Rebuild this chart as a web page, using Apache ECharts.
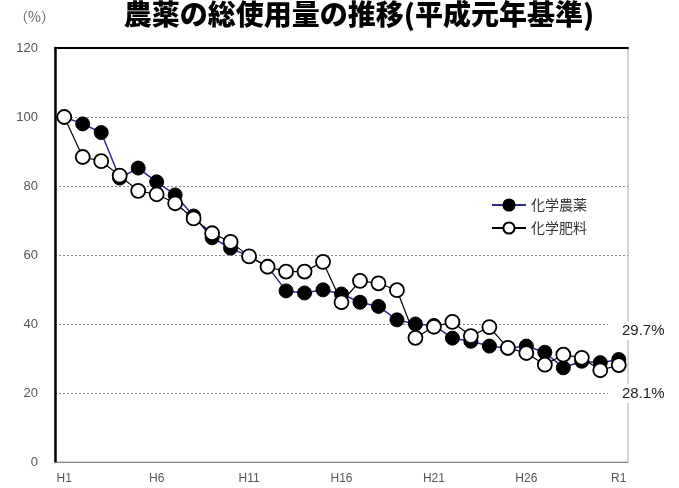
<!DOCTYPE html>
<html>
<head>
<meta charset="utf-8">
<script src="https://cdn.jsdelivr.net/npm/echarts@6/dist/echarts.min.js"></script>
<style>
  html, body { margin: 0; padding: 0; background: #fff; }
  #main { width: 679px; height: 488px; }
</style>
</head>
<body>
<div id="main"></div>
<script>
// 年度 (H1 ~ H30, R1)
var years = [];
for (var i = 1; i <= 30; i++) years.push('H' + i);
years.push('R1');

// 化学農薬 (%)
var pesticide = [100, 98, 95.5, 82.3, 85.2, 81.2, 77.4, 71.3, 65, 62,
  59.6, 56.7, 49.6, 49, 49.9, 48.7, 46.3, 45.1, 41.2, 40,
  39.6, 35.9, 35, 33.6, 33, 33.6, 31.8, 27.3, 29.2, 28.8, 29.7];
// 化学肥料 (%)
var fertilizer = [100, 88.4, 87.2, 83, 78.6, 77.6, 75, 70.6, 66.3, 63.8,
  59.6, 56.6, 55.2, 55.2, 58, 46.3, 52.5, 51.8, 49.8, 36,
  39.2, 40.6, 36.5, 39.1, 33.1, 31.6, 28.2, 31.1, 30.2, 26.6, 28.1];

var yTicks = [0, 20, 40, 60, 80, 100, 120];
var endNotes = ['29.7%', '28.1%'];

var myChart = echarts.init(document.getElementById('main'));

var option = {
  animation: false,
  backgroundColor: '#fff',
  title: {
    text: '農薬の総使用量の推移(平成元年基準)',
    left: 354,
    top: -5,
    textAlign: 'center',
    textStyle: {
      fontFamily: 'Noto Sans CJK JP',
      fontSize: 28,
      fontWeight: 900,
      color: '#000'
    }
  },
  grid: {
    left: 55,
    right: 51,
    top: 48,
    bottom: 26,
    show: true,
    borderColor: '#aaa',
    borderWidth: 1
  },
  legend: {
    orient: 'vertical',
    left: 486,
    top: 193,
    itemWidth: 34,
    itemHeight: 14,
    itemGap: 9,
    textStyle: { fontFamily: 'Noto Sans CJK JP', fontSize: 14, color: '#333' },
    data: ['化学農薬', '化学肥料']
  },
  xAxis: [
    {
      type: 'category',
      data: years,
      boundaryGap: true,
      axisLine: { lineStyle: { color: '#888', width: 1 } },
      axisTick: { inside: true, length: 5, interval: 0, lineStyle: { color: '#888' } },
      axisLabel: {
        interval: 4,
        color: '#555',
        fontFamily: 'Liberation Sans',
        fontSize: 12,
        margin: 11
      }
    },
    {
      type: 'category',
      position: 'top',
      data: years,
      axisLine: { lineStyle: { color: '#000', width: 2 } },
      axisTick: { show: false },
      axisLabel: { show: false }
    }
  ],
  yAxis: {
    type: 'value',
    min: 0,
    max: 120,
    interval: 20,
    axisLine: { show: true, lineStyle: { color: '#000', width: 2.5 } },
    axisTick: { show: false },
    axisLabel: {
      color: '#555',
      fontFamily: 'Liberation Sans',
      fontSize: 13,
      margin: 17,
      formatter: function (v) { return yTicks.indexOf(v) >= 0 ? String(v) : ''; }
    },
    splitLine: { show: true, lineStyle: { color: '#888', type: [2, 2], width: 1 } }
  },
  series: [
    {
      name: '化学農薬',
      type: 'line',
      data: pesticide,
      symbol: 'circle',
      symbolSize: 14,
      showAllSymbol: true,
      lineStyle: { color: '#2a2a90', width: 1.5 },
      itemStyle: { color: '#000', borderColor: '#000', borderWidth: 1 }
    },
    {
      name: '化学肥料',
      type: 'line',
      data: fertilizer,
      symbol: 'circle',
      symbolSize: 14,
      showAllSymbol: true,
      lineStyle: { color: '#000', width: 1.2 },
      itemStyle: { color: '#fff', borderColor: '#000', borderWidth: 1.8 }
    }
  ],
  graphic: [
    {
      type: 'text',
      left: 14,
      top: 10,
      style: { text: '（%）', fill: '#666', font: '14px "Noto Sans CJK JP"' }
    },
    {
      type: 'text',
      left: 608,
      top: 321,
      z: 100,
      style: {
        text: endNotes[0], fill: '#222', font: '15px "Liberation Sans"',
        backgroundColor: '#fff', padding: [2, 2, 2, 14]
      }
    },
    {
      type: 'text',
      left: 608,
      top: 384,
      z: 100,
      style: {
        text: endNotes[1], fill: '#222', font: '15px "Liberation Sans"',
        backgroundColor: '#fff', padding: [2, 2, 2, 14]
      }
    }
  ]
};

myChart.setOption(option);
window.addEventListener('resize', function () { myChart.resize(); });
</script>
</body>
</html>
